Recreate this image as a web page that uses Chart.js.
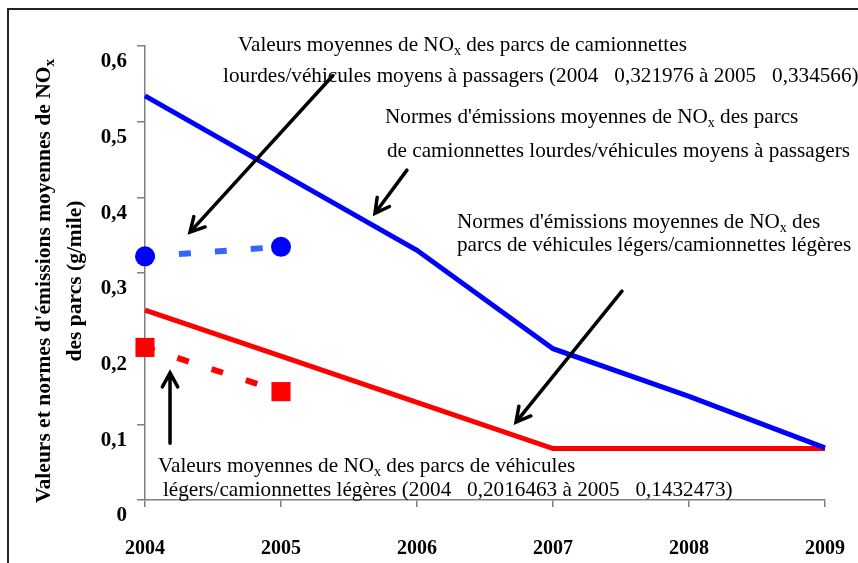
<!DOCTYPE html>
<html>
<head>
<meta charset="utf-8">
<script src="https://cdn.jsdelivr.net/npm/chart.js@4/dist/chart.umd.min.js"></script>
<style>
  html, body { margin: 0; padding: 0; background: #fff; }
  #wrap { width: 858px; height: 563px; }
</style>
</head>
<body>
<div id="wrap"><canvas id="chart" width="858" height="563"></canvas></div>
<script>
// Data
const years = [2004, 2005, 2006, 2007, 2008, 2009];
const normesLourds = [0.534, 0.432, 0.330, 0.200, 0.137, 0.069];
const normesLegers = [0.251, 0.190, 0.129, 0.068, 0.068, 0.068];
const valeursYears = [2004, 2005];
const valeursLourds = [0.321976, 0.334566];
const valeursLegers = [0.2016463, 0.1432473];
const yTicks = [0, 0.1, 0.2, 0.3, 0.4, 0.5, 0.6];

const yTitle = ["Valeurs et normes d'émissions moyennes de NO_x", 'des parcs (g/mile)'];

// Annotations, in chart units (year, g/mile)
const notes = [
  { x: 2004.684, y: 0.601, text: 'Valeurs moyennes de NO_x des parcs de camionnettes' },
  { x: 2004.574, y: 0.560, text: 'lourdes/véhicules moyens à passagers (2004   0,321976 à 2005   0,334566)' },
  { x: 2005.765, y: 0.505, text: "Normes d'émissions moyennes de NO_x des parcs" },
  { x: 2005.779, y: 0.461, text: 'de camionnettes lourdes/véhicules moyens à passagers' },
  { x: 2006.294, y: 0.367, text: "Normes d'émissions moyennes de NO_x des" },
  { x: 2006.294, y: 0.336, text: 'parcs de véhicules légers/camionnettes légères' },
  { x: 2004.096, y: 0.045, text: 'Valeurs moyennes de NO_x des parcs de véhicules' },
  { x: 2004.132, y: 0.013, text: 'légers/camionnettes légères (2004   0,2016463 à 2005   0,1432473)' }
];
const arrows = [
  { from: [2005.382, 0.561], to: [2004.331, 0.354] },
  { from: [2005.926, 0.436], to: [2005.691, 0.379] },
  { from: [2007.507, 0.276], to: [2006.728, 0.103] },
  { from: [2004.184, 0.075], to: [2004.184, 0.168] }
];

const SERIF = '"Liberation Serif", "Times New Roman", serif';

function toPoints(xs, ys) {
  return xs.map((x, i) => ({ x: x, y: ys[i] }));
}

function fmtY(v) {
  if (v === 0) return '0';
  return v.toFixed(1).replace('.', ',');
}

// text with "_x" subscripts
function drawRich(ctx, text, x, y, size, weight) {
  const parts = text.split(/_(.)/);
  let cx = x;
  parts.forEach((p, i) => {
    const sub = i % 2 === 1;
    const fs = sub ? Math.round(size * 0.68) : size;
    ctx.font = weight + ' ' + fs + 'px ' + SERIF;
    ctx.fillText(p, cx, sub ? y + size * 0.28 : y);
    cx += ctx.measureText(p).width;
  });
  return cx - x;
}

function richWidth(ctx, text, size, weight) {
  const parts = text.split(/_(.)/);
  let w = 0;
  parts.forEach((p, i) => {
    const fs = i % 2 === 1 ? Math.round(size * 0.68) : size;
    ctx.font = weight + ' ' + fs + 'px ' + SERIF;
    w += ctx.measureText(p).width;
  });
  return w;
}

function drawArrow(ctx, x1, y1, x2, y2) {
  const ang = Math.atan2(y2 - y1, x2 - x1);
  const head = 16;
  const spread = 0.5;
  ctx.beginPath();
  ctx.moveTo(x1, y1);
  ctx.lineTo(x2, y2);
  ctx.moveTo(x2 - head * Math.cos(ang - spread), y2 - head * Math.sin(ang - spread));
  ctx.lineTo(x2, y2);
  ctx.lineTo(x2 - head * Math.cos(ang + spread), y2 - head * Math.sin(ang + spread));
  ctx.stroke();
}

const decorPlugin = {
  id: 'decor',
  afterDatasetsDraw(chart) {
    const ctx = chart.ctx;
    const xs = chart.scales.x;
    const ys = chart.scales.y;
    ctx.save();

    // arrows
    ctx.strokeStyle = '#000';
    ctx.lineWidth = 3.5;
    ctx.lineCap = 'round';
    ctx.lineJoin = 'miter';
    arrows.forEach(a => {
      drawArrow(ctx,
        xs.getPixelForValue(a.from[0]), ys.getPixelForValue(a.from[1]),
        xs.getPixelForValue(a.to[0]), ys.getPixelForValue(a.to[1]));
    });

    // annotation text
    ctx.fillStyle = '#000';
    ctx.textBaseline = 'middle';
    ctx.textAlign = 'left';
    notes.forEach(n => {
      drawRich(ctx, n.text, xs.getPixelForValue(n.x), ys.getPixelForValue(n.y), 21.2, 'normal');
    });

    // y axis title, rotated
    const midY = (ys.top + ys.bottom) / 2 + 8;
    const lineX = [44, 75];
    yTitle.forEach((t, i) => {
      ctx.save();
      ctx.translate(lineX[i], midY);
      ctx.rotate(-Math.PI / 2);
      const w = richWidth(ctx, t, 21.5, 'bold');
      drawRich(ctx, t, -w / 2, 0, 21.5, 'bold');
      ctx.restore();
    });

    // outer frame (top and left edges visible)
    ctx.strokeStyle = '#222';
    ctx.lineWidth = 2;
    ctx.lineCap = 'butt';
    ctx.beginPath();
    ctx.moveTo(8, chart.height);
    ctx.lineTo(8, 9);
    ctx.lineTo(chart.width, 9);
    ctx.stroke();
    ctx.restore();
  }
};

const ctx = document.getElementById('chart').getContext('2d');
new Chart(ctx, {
  type: 'line',
  data: {
    datasets: [
      {
        label: 'Normes camionnettes lourdes/véhicules moyens à passagers',
        data: toPoints(years, normesLourds),
        borderColor: '#0000ff',
        borderWidth: 5,
        pointRadius: 0,
        tension: 0,
        clip: false
      },
      {
        label: 'Normes véhicules légers/camionnettes légères',
        data: toPoints(years, normesLegers),
        borderColor: '#ff0000',
        borderWidth: 5,
        pointRadius: 0,
        tension: 0,
        clip: false
      },
      {
        label: 'Valeurs camionnettes lourdes/véhicules moyens à passagers',
        data: toPoints(valeursYears, valeursLourds),
        borderColor: '#3366ff',
        borderWidth: 6,
        borderDash: [12, 24],
        borderDashOffset: 2,
        borderCapStyle: 'butt',
        pointStyle: 'circle',
        pointRadius: 10,
        pointBorderWidth: 0,
        pointBackgroundColor: '#0000ff',
        tension: 0,
        clip: false
      },
      {
        label: 'Valeurs véhicules légers/camionnettes légères',
        data: toPoints(valeursYears, valeursLegers),
        borderColor: '#ff0000',
        borderWidth: 6,
        borderDash: [12, 24],
        borderDashOffset: 2,
        borderCapStyle: 'butt',
        pointStyle: 'rect',
        pointRadius: 13.5,
        pointBorderWidth: 0,
        pointBackgroundColor: '#ff0000',
        tension: 0,
        clip: false
      }
    ]
  },
  options: {
    responsive: false,
    animation: false,
    layout: { padding: { top: 46, right: 33, left: 0, bottom: 0 } },
    plugins: {
      legend: { display: false },
      tooltip: { enabled: false }
    },
    scales: {
      x: {
        type: 'linear',
        min: 2004,
        max: 2009,
        afterFit: s => { s.height = 63; s.paddingLeft = 0; s.paddingRight = 0; },
        afterBuildTicks: s => { s.ticks = years.map(v => ({ value: v })); },
        ticks: {
          callback: v => String(v),
          color: '#000',
          padding: 30,
          maxRotation: 0,
          font: { family: SERIF, size: 20, weight: 'bold' }
        },
        grid: {
          drawOnChartArea: false,
          drawTicks: true,
          tickLength: 7,
          color: '#808080',
          lineWidth: 1.5
        },
        border: { display: true, color: '#808080', width: 1.5 }
      },
      y: {
        min: 0,
        max: 0.6,
        afterFit: s => { s.width = 145; s.paddingTop = 0; s.paddingBottom = 0; },
        afterBuildTicks: s => { s.ticks = yTicks.map(v => ({ value: v })); },
        ticks: {
          callback: v => fmtY(v),
          color: '#000',
          padding: 10,
          labelOffset: 16,
          font: { family: SERIF, size: 21, weight: 'bold' }
        },
        grid: {
          drawOnChartArea: false,
          drawTicks: true,
          tickLength: 8,
          color: '#808080',
          lineWidth: 1.5
        },
        border: { display: true, color: '#808080', width: 1.5 }
      }
    }
  },
  plugins: [decorPlugin]
});
</script>
</body>
</html>
